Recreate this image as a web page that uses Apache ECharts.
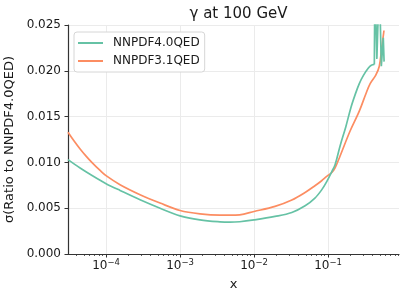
<!DOCTYPE html>
<html><head><meta charset="utf-8">
<script src="https://cdn.jsdelivr.net/npm/echarts@6/dist/echarts.min.js"></script>
<style>html,body{margin:0;padding:0;background:#fff}#c{width:407px;height:299px}</style>
</head><body><div id="c"></div>
<script>
const titleText = 'γ at 100 GeV';
const xAxisName = 'x';
const yAxisName = 'σ(Ratio to NNPDF4.0QED)';
const seriesNames = ['NNPDF4.0QED', 'NNPDF3.1QED'];
const xTickValues = [1e-4, 1e-3, 1e-2, 1e-1];
const xMinorTickValues = [4e-5, 5e-5, 6e-5, 7e-5, 8e-5, 9e-5,
  2e-4, 3e-4, 4e-4, 5e-4, 6e-4, 7e-4, 8e-4, 9e-4,
  2e-3, 3e-3, 4e-3, 5e-3, 6e-3, 7e-3, 8e-3, 9e-3,
  2e-2, 3e-2, 4e-2, 5e-2, 6e-2, 7e-2, 8e-2, 9e-2,
  0.2, 0.3, 0.4, 0.5, 0.6, 0.7, 0.8, 0.9];
const yTickValues = [0, 0.005, 0.01, 0.015, 0.02, 0.025];

const xGreen = [3.06e-5, 4.46e-5, 6.47e-5, 8.3e-5, 1e-4, 1.545e-4, 2.88e-4, 5.37e-4, 1e-3, 1.86e-3, 3.46e-3, 4.7e-3, 6.4e-3, 1e-2, 1.92e-2, 3.24e-2, 4.9e-2, 6.65e-2, 8.2e-2, 9.6e-2, 0.1125, 0.1245, 0.1455, 0.174, 0.204, 0.2325, 0.2645, 0.301, 0.351, 0.385, 0.4225];
const yGreen = [0.0103, 0.00938, 0.00856, 0.00806, 0.00768, 0.00694, 0.00592, 0.0050, 0.00416, 0.00373, 0.00351, 0.00347, 0.00352, 0.00372, 0.0041, 0.00453, 0.00526, 0.0061, 0.0070, 0.0079, 0.0090, 0.00975, 0.0118, 0.0139, 0.0160, 0.0174, 0.0186, 0.0195, 0.0203, 0.0206, 0.0207];
// noisy high-x tail of NNPDF4.0QED (drawn without smoothing)
const xGreenTail = [0.4225, 0.430, 0.457, 0.493, 0.525, 0.558, 0.572];
const yGreenTail = [0.0207, 0.0300, 0.0213, 0.0300, 0.0205, 0.0236, 0.0210];

const xOrange = [3.06e-5, 3.7e-5, 4.46e-5, 5.37e-5, 6.47e-5, 8.3e-5, 1e-4, 1.545e-4, 2.88e-4, 5.37e-4, 1e-3, 1.86e-3, 3.46e-3, 4.7e-3, 6.4e-3, 1e-2, 1.92e-2, 3.24e-2, 4.9e-2, 6.65e-2, 8.2e-2, 9.6e-2, 0.1125, 0.1245, 0.1455, 0.198, 0.2645, 0.325, 0.371, 0.44, 0.493, 0.53, 0.57];
const yOrange = [0.0133, 0.01234, 0.01147, 0.01069, 0.00998, 0.00912, 0.00855, 0.00756, 0.00647, 0.00556, 0.00475, 0.00438, 0.00424, 0.00424, 0.00428, 0.00464, 0.0052, 0.0059, 0.00672, 0.00745, 0.0080, 0.00847, 0.0089, 0.0094, 0.0107, 0.0134, 0.0156, 0.0175, 0.0186, 0.0195, 0.0205, 0.0224, 0.0244];

const colors = ['#66c2a5', '#fc8d62'];
const font = 'DejaVu Sans';
const X_MIN = 3.06e-5, X_MAX = 0.91;

function pairs(xs, ys) { return xs.map((x, i) => [x, ys[i]]); }

const chart = echarts.init(document.getElementById('c'), null, {renderer: 'canvas'});
chart.setOption({
  animation: false,
  backgroundColor: '#fff',
  textStyle: {fontFamily: font},
  title: {
    text: titleText, left: 233.5, top: 2, textAlign: 'center',
    textStyle: {fontFamily: font, fontSize: 15, fontWeight: 'normal', color: '#1a1a1a'}
  },
  legend: {
    orient: 'vertical', left: 74, top: 32,
    data: seriesNames,
    icon: 'rect', itemWidth: 25, itemHeight: 2, itemGap: 4,
    padding: [4, 5, 4, 4],
    backgroundColor: '#fff', borderColor: '#d6d6d6', borderWidth: 1, borderRadius: 3,
    textStyle: {fontFamily: font, fontSize: 12, color: '#1a1a1a', lineHeight: 14, padding: [0, 0, 0, 5]}
  },
  grid: {left: 68, right: 8, top: 25, bottom: 45, containLabel: false, outerBoundsMode: 'none'},
  xAxis: [{
    type: 'log', logBase: 10, min: X_MIN, max: X_MAX,
    name: xAxisName, nameLocation: 'middle', nameGap: 24,
    nameTextStyle: {fontFamily: font, fontSize: 13, color: '#1a1a1a'},
    axisLine: {show: true, lineStyle: {color: '#333', width: 1.2}},
    axisTick: {show: true, inside: false, length: 3.5, customValues: xTickValues, lineStyle: {color: '#333', width: 1}},
    axisLabel: {
      show: true, margin: 4, customValues: xTickValues,
      formatter: function (v) {
        const e = Math.round(Math.log10(v));
        return '{b|10}{s|' + (e < 0 ? '\u2212' : '') + Math.abs(e) + '}';
      },
      rich: {
        b: {fontFamily: font, fontSize: 12, color: '#1a1a1a', lineHeight: 16},
        s: {fontFamily: font, fontSize: 8.5, color: '#1a1a1a', lineHeight: 8, verticalAlign: 'top'}
      }
    },
    splitLine: {show: true, lineStyle: {color: '#ebebeb', width: 1}}
  }, {
    type: 'log', logBase: 10, min: X_MIN, max: X_MAX, position: 'bottom',
    axisLine: {show: false},
    axisTick: {show: true, inside: false, length: 2, customValues: xMinorTickValues, lineStyle: {color: '#333', width: 0.8}},
    axisLabel: {show: false},
    splitLine: {show: false}
  }],
  yAxis: {
    type: 'value', min: 0, max: 0.025, interval: 0.005,
    name: yAxisName, nameLocation: 'middle', nameGap: 44, nameRotate: 90,
    nameTextStyle: {fontFamily: font, fontSize: 13, color: '#1a1a1a'},
    axisLine: {show: true, lineStyle: {color: '#333', width: 1.2}},
    axisTick: {show: true, inside: false, length: 3.5, lineStyle: {color: '#333', width: 1}},
    axisLabel: {
      margin: 7, fontFamily: font, fontSize: 12, color: '#1a1a1a',
      formatter: function (v) { return v.toFixed(3); }
    },
    splitLine: {show: true, lineStyle: {color: '#ebebeb', width: 1}}
  },
  series: [{
    name: seriesNames[0], type: 'line', xAxisIndex: 0, data: pairs(xGreen, yGreen),
    symbol: 'none', showSymbol: false, clip: true, smooth: 0.35,
    lineStyle: {color: colors[0], width: 1.7}, itemStyle: {color: colors[0]}, z: 3
  }, {
    name: seriesNames[0], type: 'line', xAxisIndex: 0, data: pairs(xGreenTail, yGreenTail),
    symbol: 'none', showSymbol: false, clip: true, smooth: false,
    lineStyle: {color: colors[0], width: 1.7}, itemStyle: {color: colors[0]}, z: 3
  }, {
    name: seriesNames[1], type: 'line', xAxisIndex: 0, data: pairs(xOrange, yOrange),
    symbol: 'none', showSymbol: false, clip: true, smooth: 0.35,
    lineStyle: {color: colors[1], width: 1.7}, itemStyle: {color: colors[1]}, z: 2
  }]
});
</script></body></html>
